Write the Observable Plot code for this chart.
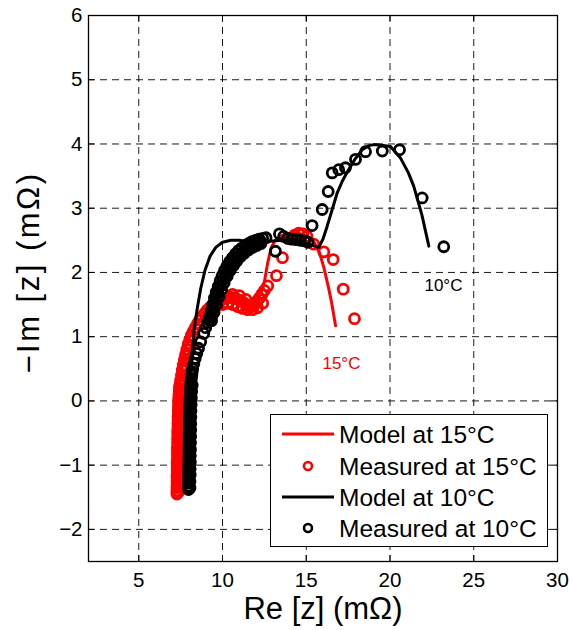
<!DOCTYPE html>
<html><head><meta charset="utf-8">
<script src="https://cdn.jsdelivr.net/npm/d3@7"></script>
<script src="https://cdn.jsdelivr.net/npm/@observablehq/plot@0.6"></script>
<style>
body{margin:0;background:#fff;font-family:"Liberation Sans",Arial,sans-serif;}
#chart{position:relative;width:572px;height:630px;}
#legend{position:absolute;left:270px;top:414px;width:278px;height:133px;border:1px solid #000;background:#fff;box-sizing:border-box;}
.row{position:absolute;left:0;height:30px;width:276px;}
.row svg{position:absolute;left:10px;top:0;}
.row span{position:absolute;left:68px;top:1px;font-size:24.5px;line-height:30px;color:#000;white-space:nowrap;}
</style></head><body><div id="chart"></div>
<script>
// ---- data ----
const xTicks = [5, 10, 15, 20, 25, 30];
const yTicks = [-2, -1, 0, 1, 2, 3, 4, 5, 6];
const xLabel = "Re [z] (mΩ)";
const yLabel = "−Im [z] (mΩ)";

// Model at 15°C
const model15Re = [7.40,7.50,7.65,7.85,8.10,8.40,8.80,9.30,9.90,10.50,11.10,11.60,12.00,12.30,12.50,12.70,12.90,13.15,13.50,14.00,14.50,15.00,15.45,15.80,16.05,16.30,16.50,16.75];
const model15Im = [0.00,0.35,0.65,0.88,1.05,1.18,1.30,1.42,1.52,1.57,1.56,1.52,1.55,1.68,1.85,2.15,2.38,2.50,2.57,2.60,2.61,2.57,2.48,2.30,2.08,1.80,1.55,1.17];

// Measured at 15°C
const meas15Re = [7.28,7.28,7.28,7.29,7.29,7.29,7.29,7.30,7.30,7.30,7.30,7.31,7.31,7.31,7.31,7.32,7.32,7.32,7.33,7.33,7.33,7.34,7.34,7.35,7.35,7.36,7.36,7.37,7.38,7.38,7.39,7.40,7.42,7.43,7.45,
  7.36,7.36,7.37,7.37,7.38,7.38,7.39,7.39,7.40,7.41,7.41,7.42,7.43,7.44,7.46,7.48,7.51,7.56,7.63,7.72,7.82,7.94,8.08,
  7.50,7.55,7.60,7.66,7.72,7.79,7.87,7.95,8.04,8.14,8.25,8.37,8.50,8.64,8.78,8.93,9.08,9.24,9.40,9.56,9.72,9.88,10.04,10.20,10.36,10.52,10.68,10.84,11.00,11.15,11.30,11.45,11.60,11.75,11.90,12.05,12.20,12.35,12.50,
  10.00,10.30,10.60,10.90,11.20,11.50,11.80,12.10,12.40,10.60,11.00,11.40,
  12.70,13.22,13.58,14.05,14.30,14.55,14.80,15.05,15.45,16.05,16.61,17.21,17.88];
const meas15Im = [-1.45,-1.40,-1.35,-1.30,-1.25,-1.20,-1.15,-1.10,-1.05,-1.00,-0.95,-0.90,-0.85,-0.80,-0.75,-0.70,-0.65,-0.60,-0.55,-0.50,-0.45,-0.40,-0.35,-0.30,-0.25,-0.20,-0.15,-0.10,-0.05,0.00,0.05,0.10,0.15,0.20,0.25,
  -1.425,-1.325,-1.225,-1.125,-1.025,-0.925,-0.825,-0.725,-0.625,-0.525,-0.425,-0.325,-0.225,-0.125,-0.025,0.075,0.175,0.275,0.40,0.52,0.63,0.74,0.84,
  0.32,0.40,0.48,0.56,0.64,0.72,0.80,0.88,0.95,1.02,1.08,1.14,1.20,1.26,1.31,1.36,1.41,1.45,1.49,1.52,1.55,1.57,1.59,1.60,1.61,1.61,1.60,1.59,1.57,1.55,1.52,1.49,1.47,1.48,1.51,1.55,1.60,1.66,1.72,
  1.50,1.52,1.50,1.47,1.44,1.42,1.42,1.45,1.52,1.66,1.64,1.58,
  1.79,1.95,2.23,2.52,2.58,2.61,2.60,2.56,2.44,2.32,2.20,1.74,1.28];

// Model at 10°C
const model10Re = [8.05,8.15,8.30,8.50,8.70,8.95,9.25,9.60,10.00,10.50,11.00,11.50,12.00,12.50,13.00,13.50,14.00,14.50,15.00,15.40,15.75,16.00,16.25,16.55,16.85,17.15,17.44,17.90,18.34,18.70,19.03,19.50,20.03,20.63,21.10,21.42,21.90,22.32];
const model10Im = [0.00,0.55,1.10,1.45,1.75,2.03,2.25,2.39,2.47,2.50,2.50,2.48,2.47,2.48,2.49,2.50,2.50,2.48,2.45,2.42,2.39,2.52,2.72,2.98,3.24,3.42,3.56,3.76,3.91,3.97,3.99,3.98,3.96,3.78,3.55,3.34,2.90,2.41];

// Measured at 10°C
const meas10Re = [7.97,7.97,7.97,7.98,7.98,7.98,7.98,7.99,7.99,7.99,7.99,8.00,8.00,8.00,8.00,8.01,8.01,8.01,8.02,8.02,8.02,8.03,8.03,8.03,8.04,8.04,8.05,8.05,8.06,8.07,8.08,8.09,8.10,8.12,8.14,8.17,8.19,
  8.06,8.06,8.07,8.07,8.08,8.08,8.09,8.09,8.10,8.10,8.11,8.11,8.12,8.13,8.14,8.16,8.19,
  8.22,8.29,8.37,8.46,8.57,8.70,8.88,9.00,9.12,9.22,9.32,9.42,9.52,9.62,9.74,9.86,9.98,10.12,10.27,10.43,10.60,10.78,10.96,11.15,11.35,11.55,11.76,11.97,12.18,12.40,12.60,
  9.25,9.36,9.47,9.58,9.72,9.86,10.02,10.18,10.35,10.52,10.72,10.92,11.12,11.35,11.58,11.82,12.05,12.28,
  9.35,9.50,9.65,9.80,9.95,10.10,10.28,10.46,10.66,10.86,11.08,11.30,11.55,11.80,12.05,12.30,
  13.16,13.40,13.65,13.90,14.15,14.40,14.65,14.90,15.10,15.35,15.95,16.31,16.55,16.94,17.34,17.94,18.54,19.54,20.57,21.92,23.21];
const meas10Im = [-1.38,-1.33,-1.28,-1.23,-1.18,-1.13,-1.08,-1.03,-0.98,-0.93,-0.88,-0.83,-0.78,-0.73,-0.68,-0.63,-0.58,-0.53,-0.48,-0.43,-0.38,-0.33,-0.28,-0.23,-0.18,-0.13,-0.08,-0.03,0.02,0.07,0.12,0.17,0.22,0.28,0.34,0.40,0.45,
  -1.355,-1.255,-1.155,-1.055,-0.955,-0.855,-0.755,-0.655,-0.555,-0.455,-0.355,-0.255,-0.155,-0.055,0.045,0.145,0.245,
  0.50,0.58,0.66,0.74,0.82,0.92,1.05,1.14,1.22,1.30,1.40,1.50,1.60,1.69,1.78,1.87,1.95,2.03,2.10,2.17,2.23,2.29,2.34,2.38,2.42,2.45,2.48,2.50,2.52,2.53,2.54,
  1.25,1.32,1.44,1.56,1.67,1.78,1.88,1.97,2.05,2.12,2.19,2.25,2.30,2.35,2.39,2.43,2.46,2.48,
  1.25,1.38,1.50,1.62,1.73,1.84,1.94,2.03,2.11,2.18,2.25,2.30,2.35,2.39,2.42,2.45,
  2.33,2.60,2.56,2.53,2.52,2.51,2.50,2.49,2.47,2.73,2.98,3.26,3.55,3.60,3.63,3.76,3.88,3.89,3.91,3.16,2.40];

// annotations
const annotText = ["15°C", "10°C"];
const annotRe = [17.10, 23.19];
const annotIm = [0.58, 1.80];
const annotColor = ["#ff0000", "#000000"];

// legend
const legendLabels = ["Model at 15°C", "Measured at 15°C", "Model at 10°C", "Measured at 10°C"];
const legendColors = ["#ff0000", "#ff0000", "#000000", "#000000"];
const legendKinds = ["line", "dot", "line", "dot"];

// ---- build ----
const toRows = (xs, ys) => xs.map((x, i) => ({x, y: ys[i]}));
const m15 = toRows(model15Re, model15Im);
const d15 = toRows(meas15Re, meas15Im);
const m10 = toRows(model10Re, model10Im);
const d10 = toRows(meas10Re, meas10Im);
const annots = annotText.map((t, i) => ({t, x: annotRe[i], y: annotIm[i], c: annotColor[i]}));

const W = 572, H = 630, mL = 88, mR = 15, mT = 15, mB = 69;
const innerH = H - mT - mB, innerW = W - mL - mR;
const tick = 6;
const R = 5, SW = 2.8;
const font = '"Liberation Sans", Arial, sans-serif';

const plot = Plot.plot({
  width: W, height: H,
  marginLeft: mL, marginRight: mR, marginTop: mT, marginBottom: mB,
  style: {fontFamily: font, fontSize: "20px", color: "#000", background: "#fff", overflow: "visible"},
  x: {domain: [2, 30]},
  y: {domain: [-2.5, 6]},
  marks: [
    Plot.ruleX(xTicks, {x: d => d, stroke: "#000", strokeWidth: 0.9, strokeDasharray: "7,5"}),
    Plot.ruleY(yTicks, {y: d => d, stroke: "#000", strokeWidth: 0.9, strokeDasharray: "7,5"}),
    Plot.line(m15, {x: "x", y: "y", stroke: "#ff0000", strokeWidth: 3}),
    Plot.dot(d15, {x: "x", y: "y", r: R, stroke: "#ff0000", strokeWidth: SW, fill: "none"}),
    Plot.line(m10, {x: "x", y: "y", stroke: "#000", strokeWidth: 3}),
    Plot.dot(d10, {x: "x", y: "y", r: R, stroke: "#000", strokeWidth: SW, fill: "none"}),
    Plot.text(annots, {x: "x", y: "y", text: "t", fill: "c", fontSize: 17, textAnchor: "middle", lineAnchor: "middle"}),
    // inward ticks on all four sides
    Plot.ruleX(xTicks, {x: d => d, insetTop: innerH - tick, stroke: "#000", strokeWidth: 1}),
    Plot.ruleX(xTicks, {x: d => d, insetBottom: innerH - tick, stroke: "#000", strokeWidth: 1}),
    Plot.ruleY(yTicks, {y: d => d, insetRight: innerW - tick, stroke: "#000", strokeWidth: 1}),
    Plot.ruleY(yTicks, {y: d => d, insetLeft: innerW - tick, stroke: "#000", strokeWidth: 1}),
    Plot.frame({stroke: "#000", strokeWidth: 1.3}),
    Plot.axisX({ticks: xTicks, tickSize: 0, tickPadding: 11, fontSize: 20.5, label: null, anchor: "bottom"}),
    Plot.axisY({ticks: yTicks, tickSize: 0, tickPadding: 6, fontSize: 20.5, label: null, anchor: "left"}),
    Plot.text([xLabel], {text: d => d, frameAnchor: "bottom", dy: 48, fontSize: 31, textAnchor: "middle", lineAnchor: "middle"}),
    Plot.text([yLabel], {text: d => d, frameAnchor: "left", dx: -59, dy: -16, rotate: -90, fontSize: 31, textAnchor: "middle", lineAnchor: "middle", className: "ylab"})
  ]
});
d3.select(plot).selectAll(".ylab text").style("letter-spacing", "2.5px");
const chart = document.getElementById("chart");
chart.appendChild(plot);

// legend overlay
const leg = document.createElement("div");
leg.id = "legend";
const rowTops = [4, 36, 67, 98];
legendLabels.forEach((lab, i) => {
  const row = document.createElement("div");
  row.className = "row";
  row.style.top = rowTops[i] + "px";
  const ns = "http://www.w3.org/2000/svg";
  const s = document.createElementNS(ns, "svg");
  s.setAttribute("width", 54); s.setAttribute("height", 30);
  if (legendKinds[i] === "line") {
    const l = document.createElementNS(ns, "line");
    l.setAttribute("x1", 1); l.setAttribute("x2", 53); l.setAttribute("y1", 15); l.setAttribute("y2", 15);
    l.setAttribute("stroke", legendColors[i]); l.setAttribute("stroke-width", 3);
    s.appendChild(l);
  } else {
    const c = document.createElementNS(ns, "circle");
    c.setAttribute("cx", 27); c.setAttribute("cy", 15); c.setAttribute("r", 4);
    c.setAttribute("fill", "none"); c.setAttribute("stroke", legendColors[i]); c.setAttribute("stroke-width", 2.6);
    s.appendChild(c);
  }
  row.appendChild(s);
  const sp = document.createElement("span");
  sp.textContent = lab;
  row.appendChild(sp);
  leg.appendChild(row);
});
chart.appendChild(leg);
</script>
</body></html>
